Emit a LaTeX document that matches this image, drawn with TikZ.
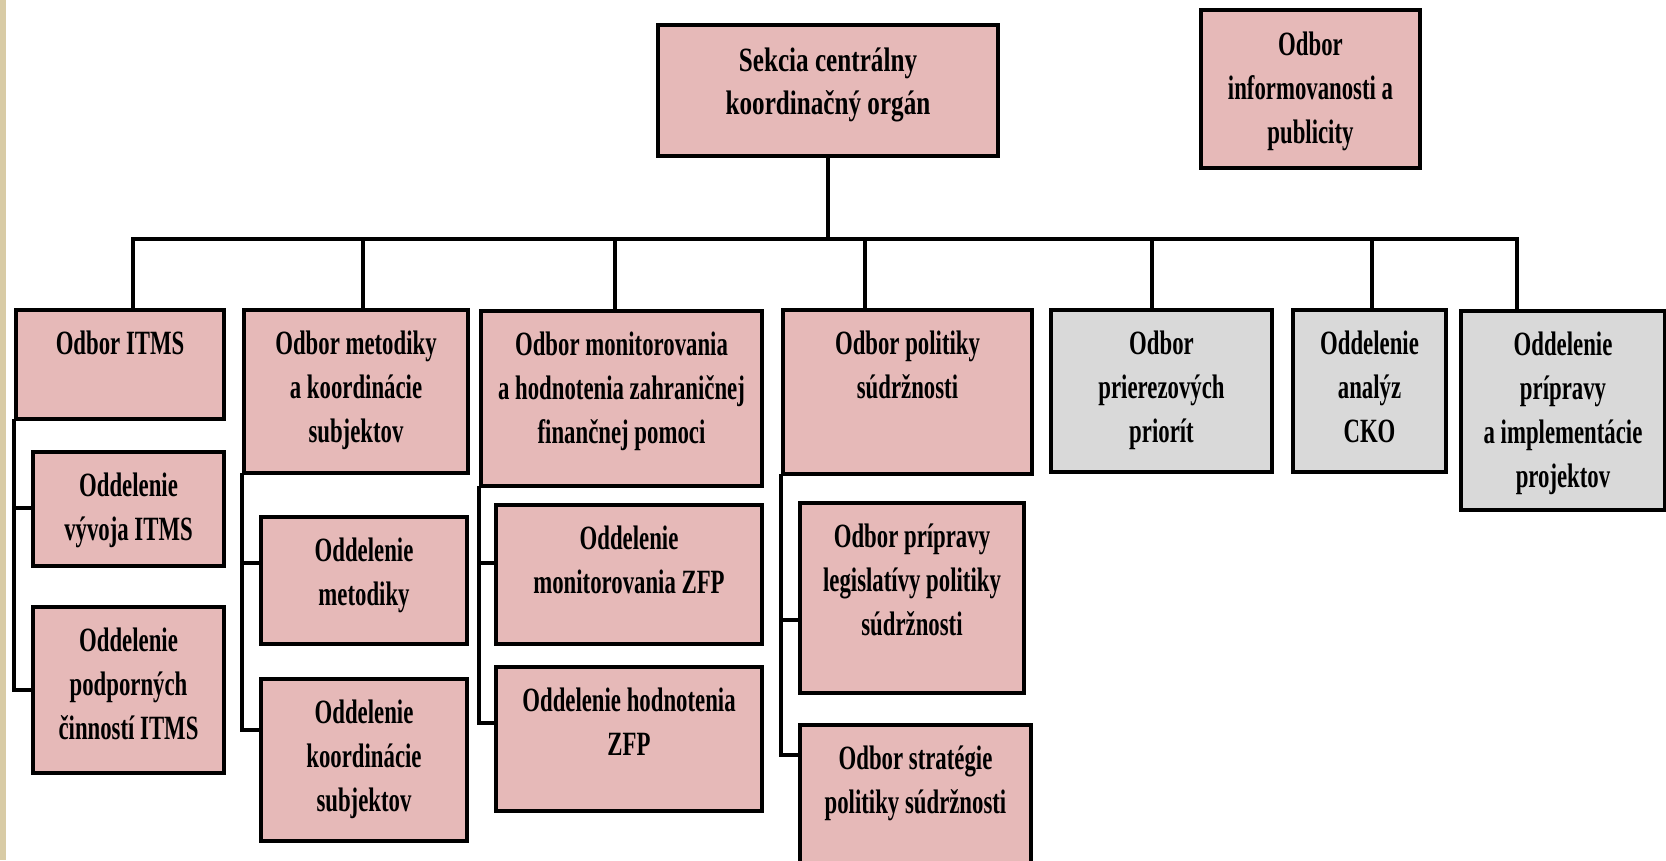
\documentclass[tikz,border=0pt]{standalone}
\usepackage{fontspec}
\setmainfont{Liberation Serif}[FakeStretch=0.67]
\newfontfamily\headfont{Liberation Serif}[FakeStretch=0.74]
\usepackage{tikz}

\definecolor{rosebox}{HTML}{E6B9B8}
\definecolor{greybox}{HTML}{D9D9D9}
\definecolor{strip}{HTML}{D8CBA5}

\begin{document}
\begin{tikzpicture}[x=1pt,y=-1pt,
    box/.style={draw=black, line width=4pt, anchor=north west, inner sep=0pt},
    rosy/.style={box, fill=rosebox},
    greyish/.style={box, fill=greybox},
    lbl/.style={anchor=north, yshift=-23pt, inner sep=0pt, align=center,
      font=\fontsize{34pt}{44pt}\selectfont\bfseries},
    headlbl/.style={lbl, yshift=-2pt, font=\fontsize{34pt}{43pt}\headfont\bfseries},
    conn/.style={line width=3.5pt, line cap=rect}]
  \useasboundingbox (0,0) rectangle (1666,860);
  \clip (0,0) rectangle (1666,860);
  \fill[strip] (0,0) rectangle (6,860);

  \node[rosy, minimum width=340pt, minimum height=131pt,
    label={[headlbl]north:{Sekcia centrálny\\koordinačný orgán}}] (sekcia) at (656,23) {};
  \node[rosy, minimum width=219pt, minimum height=158pt,
    label={[lbl, yshift=-1pt]north:{Odbor\\informovanosti a\\publicity}}] (info) at (1199,8) {};

  \node[rosy, minimum width=208pt, minimum height=109pt,
    label={[lbl]north:{Odbor ITMS}}] (itms) at (14,308) {};
  \node[rosy, minimum width=224pt, minimum height=163pt,
    label={[lbl]north:{Odbor metodiky\\a koordinácie\\subjektov}}] (metod) at (242,308) {};
  \node[rosy, minimum width=281pt, minimum height=175pt,
    label={[lbl]north:{Odbor monitorovania\\a hodnotenia zahraničnej\\finančnej pomoci}}] (monit) at (479,309) {};
  \node[rosy, minimum width=249pt, minimum height=164pt,
    label={[lbl]north:{Odbor politiky\\súdržnosti}}] (polit) at (781,308) {};
  \node[greyish, minimum width=221pt, minimum height=162pt,
    label={[lbl]north:{Odbor\\prierezových\\priorít}}] (prier) at (1049,308) {};
  \node[greyish, minimum width=153pt, minimum height=162pt,
    label={[lbl]north:{Oddelenie\\analýz\\CKO}}] (anal) at (1291,308) {};
  \node[greyish, minimum width=204pt, minimum height=199pt,
    label={[lbl]north:{Oddelenie\\prípravy\\a implementácie\\projektov}}] (priprav) at (1459,309) {};

  \node[rosy, minimum width=191pt, minimum height=114pt,
    label={[lbl]north:{Oddelenie\\vývoja ITMS}}] (vyvoj) at (31,450) {};
  \node[rosy, minimum width=191pt, minimum height=166pt,
    label={[lbl]north:{Oddelenie\\podporných\\činností ITMS}}] (podpor) at (31,605) {};
  \node[rosy, minimum width=206pt, minimum height=127pt,
    label={[lbl]north:{Oddelenie\\metodiky}}] (metodiky) at (259,515) {};
  \node[rosy, minimum width=206pt, minimum height=162pt,
    label={[lbl]north:{Oddelenie\\koordinácie\\subjektov}}] (koord) at (259,677) {};
  \node[rosy, minimum width=266pt, minimum height=139pt,
    label={[lbl]north:{Oddelenie\\monitorovania ZFP}}] (monzfp) at (494,503) {};
  \node[rosy, minimum width=266pt, minimum height=144pt,
    label={[lbl]north:{Oddelenie hodnotenia\\ZFP}}] (hodzfp) at (494,665) {};
  \node[rosy, minimum width=224pt, minimum height=190pt,
    label={[lbl]north:{Odbor prípravy\\legislatívy politiky\\súdržnosti}}] (legis) at (798,501) {};
  \node[rosy, minimum width=231pt, minimum height=170pt,
    label={[lbl]north:{Odbor stratégie\\politiky súdržnosti}}] (strat) at (798,723) {};

  \coordinate (bus1) at (133,239);
  \coordinate (bus2) at (363,239);
  \coordinate (bus3) at (615,239);
  \coordinate (bus4) at (865,239);
  \coordinate (bus5) at (1152,239);
  \coordinate (bus6) at (1372,239);
  \coordinate (bus7) at (1517,239);

  \draw[conn] (sekcia.south) -- (sekcia.south |- bus1);
  \draw[conn] (bus1) -- (bus7);
  \draw[conn] (bus1) -- (bus1 |- itms.north);
  \draw[conn] (bus2) -- (bus2 |- metod.north);
  \draw[conn] (bus3) -- (bus3 |- monit.north);
  \draw[conn] (bus4) -- (bus4 |- polit.north);
  \draw[conn] (bus5) -- (bus5 |- prier.north);
  \draw[conn] (bus6) -- (bus6 |- anal.north);
  \draw[conn] (bus7) -- (bus7 |- priprav.north);

  \draw[conn] (itms.south west) |- ([yshift=-58pt]vyvoj.north west);
  \draw[conn] (itms.south west) |- ([yshift=-85pt]podpor.north west);
  \draw[conn] (metod.south west) |- ([yshift=-48pt]metodiky.north west);
  \draw[conn] (metod.south west) |- ([yshift=-53pt]koord.north west);
  \draw[conn] (monit.south west) |- ([yshift=-60pt]monzfp.north west);
  \draw[conn] (monit.south west) |- ([yshift=-58pt]hodzfp.north west);
  \draw[conn] (polit.south west) |- ([yshift=-119pt]legis.north west);
  \draw[conn] (polit.south west) |- ([yshift=-32pt]strat.north west);
\end{tikzpicture}
\end{document}
